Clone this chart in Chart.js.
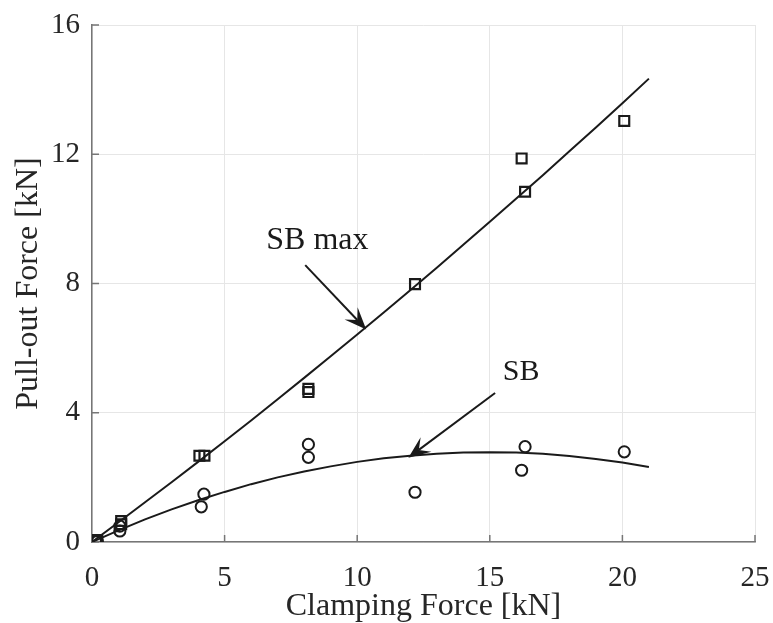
<!DOCTYPE html>
<html>
<head>
<meta charset="utf-8">
<title>Pull-out force vs clamping force</title>
<script src="https://cdn.jsdelivr.net/npm/chart.js@4.4.1/dist/chart.umd.min.js"></script>
<style>
  html, body { margin: 0; padding: 0; background: #ffffff; }
  canvas { display: block; }
</style>
</head>
<body>
<canvas id="chart" width="773" height="623"></canvas>
<script>
// Measured points, SB max (squares)
const sbMaxClamp = [0.15, 0.20, 1.10, 1.10, 4.05, 4.24, 8.16, 8.16, 12.18, 16.20, 16.33, 20.07];
const sbMaxPull  = [0.06, 0.03, 0.65, 0.55, 2.67, 2.67, 4.74, 4.64, 7.98, 11.87, 10.84, 13.03];

// Measured points, SB (circles)
const sbClamp = [0.15, 0.20, 1.05, 1.05, 4.12, 4.22, 8.16, 8.16, 12.18, 16.20, 16.33, 20.07];
const sbPull  = [0.04, 0.02, 0.34, 0.49, 1.09, 1.48, 3.02, 2.62, 1.54, 2.22, 2.95, 2.79];

// Fitted trend curves, sampled every 1 kN
const fitClamp = [0, 1, 2, 3, 4, 5, 6, 7, 8, 9, 10, 11, 12, 13, 14, 15, 16, 17, 18, 19, 20, 21];
const fitSbMax = [0, 0.61, 1.23, 1.85, 2.48, 3.12, 3.76, 4.42, 5.08, 5.75, 6.42, 7.10,
                  7.79, 8.49, 9.20, 9.91, 10.63, 11.35, 12.09, 12.83, 13.58, 14.34];
const fitSb    = [0, 0.36, 0.70, 1.01, 1.29, 1.55, 1.79, 2.00, 2.18, 2.34, 2.48, 2.59,
                  2.67, 2.73, 2.77, 2.78, 2.77, 2.73, 2.66, 2.57, 2.46, 2.32];

// Axis ticks
const xTicks = [0, 5, 10, 15, 20, 25];
const yTicks = [0, 4, 8, 12, 16];

// Callout labels and arrows (data units)
const calloutText  = ['SB max', 'SB'];
const calloutTextX = [6.57, 15.49];
const calloutTextY = [9.06, 5.01];
const arrowFromX = [8.04, 15.20];
const arrowFromY = [8.57, 4.61];
const arrowToX   = [10.34, 11.93];
const arrowToY   = [6.58, 2.61];

const FONT = '"Liberation Serif", "Times New Roman", serif';
const INK = '#1a1a1a';
const AXIS = '#767676';

const pts = (xs, ys) => xs.map((x, i) => ({ x: x, y: ys[i] }));

const decorations = {
  id: 'decorations',
  beforeDatasetsDraw(chart) {
    // inward tick marks on both axes
    const { ctx, chartArea: a, scales: { x, y } } = chart;
    ctx.save();
    ctx.strokeStyle = AXIS;
    ctx.lineWidth = 1.5;
    ctx.beginPath();
    xTicks.forEach(v => {
      const px = x.getPixelForValue(v);
      ctx.moveTo(px, a.bottom);
      ctx.lineTo(px, a.bottom - 7);
    });
    yTicks.forEach(v => {
      const py = y.getPixelForValue(v);
      ctx.moveTo(a.left, py);
      ctx.lineTo(a.left + 7, py);
    });
    ctx.stroke();
    ctx.restore();
  },
  afterDatasetsDraw(chart) {
    const { ctx, scales: { x, y } } = chart;
    ctx.save();
    ctx.fillStyle = INK;
    ctx.strokeStyle = INK;
    ctx.lineWidth = 2;
    ctx.textBaseline = 'alphabetic';
    ctx.textAlign = 'left';
    calloutText.forEach((t, i) => {
      ctx.font = (i === 0 ? 32 : 30) + 'px ' + FONT;
      ctx.fillText(t, x.getPixelForValue(calloutTextX[i]), y.getPixelForValue(calloutTextY[i]));
    });
    arrowFromX.forEach((_, i) => {
      const x0 = x.getPixelForValue(arrowFromX[i]);
      const y0 = y.getPixelForValue(arrowFromY[i]);
      const x1 = x.getPixelForValue(arrowToX[i]);
      const y1 = y.getPixelForValue(arrowToY[i]);
      const len = Math.hypot(x1 - x0, y1 - y0);
      const ux = (x1 - x0) / len, uy = (y1 - y0) / len;
      const nx = -uy, ny = ux;
      const L = 22, W = 9, N = 13;
      ctx.beginPath();
      ctx.moveTo(x0, y0);
      ctx.lineTo(x1 - ux * N, y1 - uy * N);
      ctx.stroke();
      ctx.beginPath();
      ctx.moveTo(x1, y1);
      ctx.lineTo(x1 - ux * L + nx * W, y1 - uy * L + ny * W);
      ctx.lineTo(x1 - ux * N, y1 - uy * N);
      ctx.lineTo(x1 - ux * L - nx * W, y1 - uy * L - ny * W);
      ctx.closePath();
      ctx.fill();
    });
    ctx.restore();
  }
};

const tickFont = { family: FONT, size: 29 };
const titleFont = { family: FONT, size: 32 };

new Chart(document.getElementById('chart'), {
  type: 'scatter',
  data: {
    datasets: [
      {
        label: 'SB max fit', data: pts(fitClamp, fitSbMax), showLine: true,
        borderColor: INK, borderWidth: 2, pointRadius: 0, tension: 0, fill: false
      },
      {
        label: 'SB fit', data: pts(fitClamp, fitSb), showLine: true,
        borderColor: INK, borderWidth: 2, pointRadius: 0, tension: 0, fill: false
      },
      {
        label: 'SB max', data: pts(sbMaxClamp, sbMaxPull), showLine: false,
        pointStyle: 'rect', pointRadius: 7, pointBorderWidth: 2.2,
        pointBorderColor: INK, pointBackgroundColor: 'rgba(0,0,0,0)'
      },
      {
        label: 'SB', data: pts(sbClamp, sbPull), showLine: false,
        pointStyle: 'circle', pointRadius: 5.6, pointBorderWidth: 2,
        pointBorderColor: INK, pointBackgroundColor: 'rgba(0,0,0,0)'
      }
    ]
  },
  options: {
    responsive: false,
    animation: false,
    devicePixelRatio: 1,
    layout: { padding: { top: 25, right: 18, left: 0, bottom: 0 } },
    plugins: { legend: { display: false }, tooltip: { enabled: false } },
    scales: {
      x: {
        type: 'linear', min: 0, max: 25,
        afterBuildTicks: s => { s.ticks = xTicks.map(v => ({ value: v })); },
        afterFit: s => { s.height = 81; s.paddingLeft = 0; s.paddingRight = 0; },
        grid: { color: '#e6e6e6', lineWidth: 1, drawTicks: false },
        border: { color: AXIS, width: 1.5 },
        ticks: { font: tickFont, color: '#262626', padding: 19, maxRotation: 0 },
        title: { display: true, text: 'Clamping Force [kN]', font: titleFont, color: '#262626', padding: { top: 0, bottom: -3 } }
      },
      y: {
        type: 'linear', min: 0, max: 16,
        afterBuildTicks: s => { s.ticks = yTicks.map(v => ({ value: v })); },
        afterFit: s => { s.width = 92; s.paddingTop = 0; s.paddingBottom = 0; },
        grid: { color: '#e6e6e6', lineWidth: 1, drawTicks: false },
        border: { color: AXIS, width: 1.5 },
        ticks: { font: tickFont, color: '#262626', padding: 12 },
        title: { display: true, text: 'Pull-out Force [kN]', font: titleFont, color: '#262626', padding: { top: 9, bottom: 0 } }
      }
    }
  },
  plugins: [decorations]
});
</script>
</body>
</html>
